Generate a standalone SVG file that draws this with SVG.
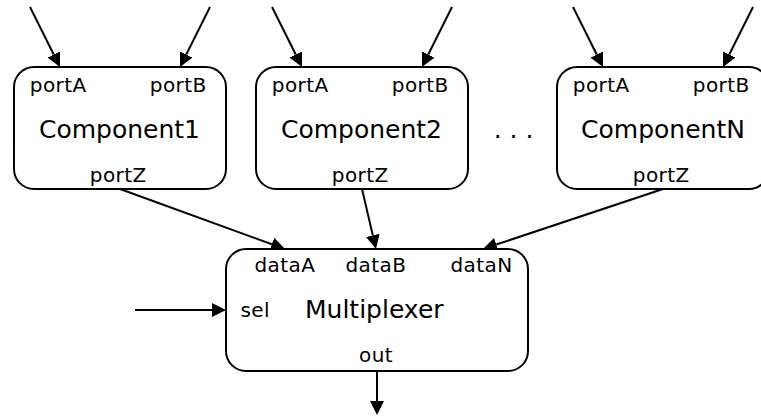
<svg xmlns="http://www.w3.org/2000/svg" width="761" height="416" viewBox="0 0 761 416">
  <style>
    .box { fill: #ffffff; stroke: #000000; stroke-width: 2; }
    .edge { fill: none; stroke: #000000; stroke-width: 2; marker-end: url(#head); }
    .port { font-family: "DejaVu Sans", "Liberation Sans", sans-serif; font-size: 20px; letter-spacing: 0.4px; fill: #000000; }
    .name { font-family: "DejaVu Sans", "Liberation Sans", sans-serif; font-size: 25px; fill: #000000; }
  </style>
  <defs>
    <marker id="head" markerUnits="userSpaceOnUse" markerWidth="14" markerHeight="14" viewBox="0 -7 14 14" refX="0" refY="0" orient="auto">
      <path d="M0,-7 L14,0 L0,7 Z" fill="#000000"/>
    </marker>
  </defs>
  <rect width="761" height="416" fill="#ffffff"/>

  <!-- connectors -->
  <g id="connectors">
    <line class="edge" x1="30" y1="7" x2="53.74" y2="54.48"/>
    <line class="edge" x1="210" y1="7" x2="186.26" y2="54.48"/>
    <line class="edge" x1="272" y1="7" x2="295.74" y2="54.48"/>
    <line class="edge" x1="452" y1="7" x2="428.26" y2="54.48"/>
    <line class="edge" x1="573" y1="7" x2="596.74" y2="54.48"/>
    <line class="edge" x1="753" y1="7" x2="729.26" y2="54.48"/>
    <line class="edge" x1="120" y1="189" x2="271.84" y2="244.22"/>
    <line class="edge" x1="362" y1="189" x2="372.82" y2="235.37"/>
    <line class="edge" x1="663" y1="189" x2="496.28" y2="244.57"/>
    <line class="edge" x1="135" y1="310" x2="212" y2="310"/>
    <line class="edge" x1="377" y1="371" x2="377" y2="401"/>
  </g>

  <!-- component nodes -->
  <g id="component1">
    <rect class="box" x="14" y="67" width="212" height="122" rx="20" ry="20"/>
    <text class="port" x="29.8" y="91.5">portA</text>
    <text class="port" x="149.8" y="91.5">portB</text>
    <text class="name" x="119.5" y="137.5" text-anchor="middle">Component1</text>
    <text class="port" x="89.8" y="181.5">portZ</text>
  </g>
  <g id="component2">
    <rect class="box" x="256" y="67" width="212" height="122" rx="20" ry="20"/>
    <text class="port" x="271.8" y="91.5">portA</text>
    <text class="port" x="391.8" y="91.5">portB</text>
    <text class="name" x="361.5" y="137.5" text-anchor="middle">Component2</text>
    <text class="port" x="331.8" y="181.5">portZ</text>
  </g>
  <g id="ellipsis">
    <text class="name" x="513.5" y="137.5" text-anchor="middle">. . .</text>
  </g>
  <g id="componentN">
    <rect class="box" x="557" y="67" width="212" height="122" rx="20" ry="20"/>
    <text class="port" x="572.8" y="91.5">portA</text>
    <text class="port" x="692.8" y="91.5">portB</text>
    <text class="name" x="663" y="137.5" text-anchor="middle">ComponentN</text>
    <text class="port" x="632.8" y="181.5">portZ</text>
  </g>

  <!-- multiplexer node -->
  <g id="multiplexer">
    <rect class="box" x="226" y="249" width="302" height="122" rx="20" ry="20"/>
    <text class="port" x="254.5" y="271.5">dataA</text>
    <text class="port" x="345.5" y="271.5">dataB</text>
    <text class="port" x="450.5" y="271.5">dataN</text>
    <text class="port" x="240.5" y="317">sel</text>
    <text class="name" x="305" y="318">Multiplexer</text>
    <text class="port" x="359" y="362">out</text>
  </g>
</svg>
